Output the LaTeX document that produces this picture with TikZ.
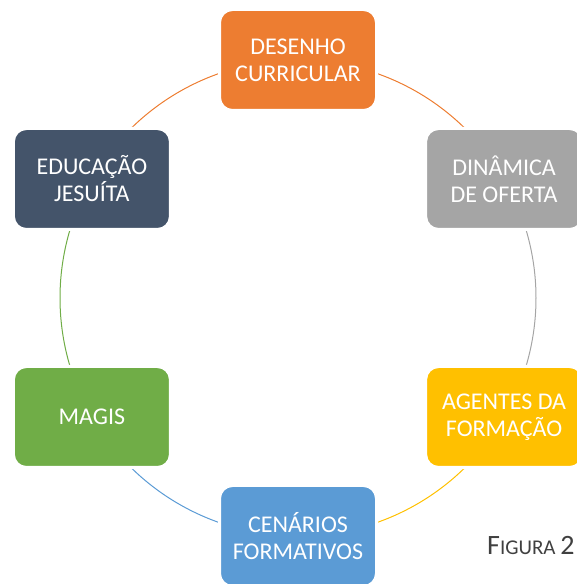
\documentclass[tikz,border=0pt]{standalone}
\usepackage{fontspec}
\setmainfont{Carlito}
\usetikzlibrary{backgrounds}

\definecolor{boxorange}{HTML}{ED7D31}
\definecolor{boxgray}{HTML}{A5A5A5}
\definecolor{boxyellow}{HTML}{FFC000}
\definecolor{boxblue}{HTML}{5B9BD5}
\definecolor{boxgreen}{HTML}{70AD47}
\definecolor{boxnavy}{HTML}{44546A}
\definecolor{captiongray}{HTML}{404040}

\begin{document}
\begin{tikzpicture}[x=1pt, y=1pt,
	cyclebox/.style={rectangle, rounded corners=13pt, draw=white, line width=3pt,
		minimum width=157pt, minimum height=101pt, inner sep=0pt,
		text=white, align=center, font=\fontsize{24}{27}\selectfont},
	cyclearc/.style={line width=1pt}]
	\useasboundingbox (0,0) rectangle (576,584);
	\coordinate (c) at (298,286);

	% Nodes {des, din, age, cen, mag, edu}
	\node [cyclebox, fill=boxorange]	(des) at ([shift={(90:238)}]c)	{DESENHO\\CURRICULAR};
	\node [cyclebox, fill=boxgray]		(din) at ([shift={(30:238)}]c)	{DINÂMICA\\DE OFERTA};
	\node [cyclebox, fill=boxyellow]	(age) at ([shift={(-30:238)}]c)	{AGENTES DA\\FORMAÇÃO};
	\node [cyclebox, fill=boxblue]		(cen) at ([shift={(-90:238)}]c)	{CENÁRIOS\\FORMATIVOS};
	\node [cyclebox, fill=boxgreen]		(mag) at ([shift={(-150:238)}]c)	{MAGIS};
	\node [cyclebox, fill=boxnavy]		(edu) at ([shift={(150:238)}]c)	{EDUCAÇÃO\\JESUÍTA};

	% Paths
	\begin{scope}[on background layer]
	\draw [cyclearc, boxorange]	(des.center) arc [start angle=90, end angle=30, radius=238pt];
	\draw [cyclearc, boxgray]	(din.center) arc [start angle=30, end angle=-30, radius=238pt];
	\draw [cyclearc, boxyellow]	(age.center) arc [start angle=-30, end angle=-90, radius=238pt];
	\draw [cyclearc, boxblue]	(cen.center) arc [start angle=-90, end angle=-150, radius=238pt];
	\draw [cyclearc, boxgreen]	(mag.center) arc [start angle=210, end angle=150, radius=238pt];
	\draw [cyclearc, boxorange]	(edu.center) arc [start angle=150, end angle=90, radius=238pt];
	\end{scope}

	% Caption
	\node [anchor=base west, inner sep=0pt, text=captiongray] (fig) at (487,30)
		{\fontsize{28}{28}\selectfont F\fontsize{21}{21}\selectfont IGURA \fontsize{28}{28}\selectfont 2};
\end{tikzpicture}
\end{document}
